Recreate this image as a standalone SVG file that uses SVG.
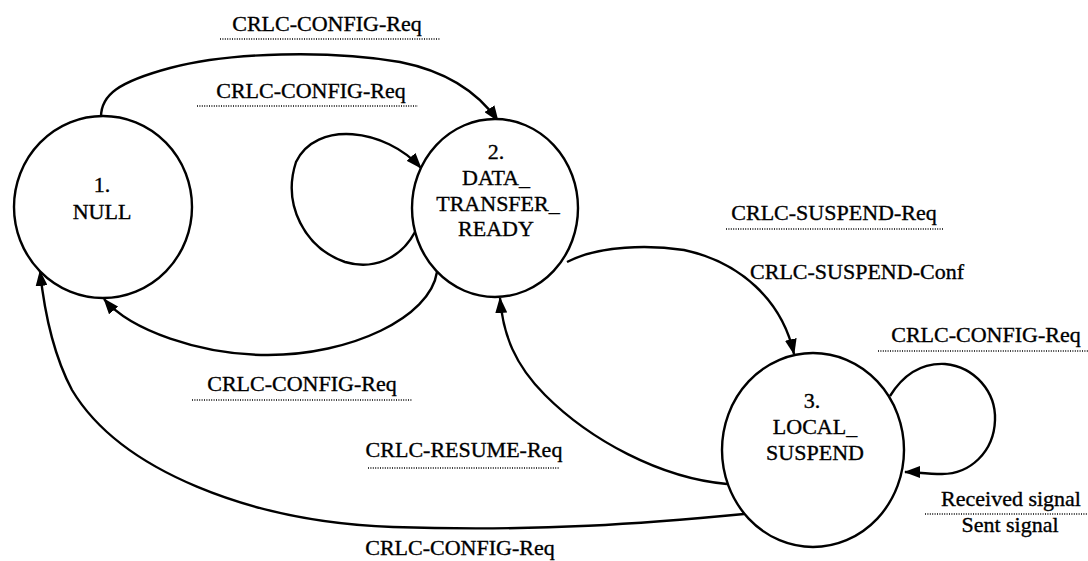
<svg xmlns="http://www.w3.org/2000/svg" width="1088" height="561" viewBox="0 0 1088 561">
<defs>
<style>
.st{fill:#fff;stroke:#000;stroke-width:2.4}
.c{fill:none;stroke:#000;stroke-width:2.4}
.t{font-family:"Liberation Serif","Times New Roman",serif;font-size:22px;fill:#000;stroke:#000;stroke-width:0.35;text-anchor:middle}
.u{stroke:#000;stroke-width:1.6;stroke-dasharray:1 1.4}
</style>
<marker id="ah" viewBox="0 0 16 12" refX="15" refY="6" markerWidth="16" markerHeight="12" markerUnits="userSpaceOnUse" orient="auto">
<path d="M0,0 L16,6 L0,12 Z" fill="#000"/>
</marker>
</defs>
<rect width="1088" height="561" fill="#fff"/>
<g id="connectors">
<path class="c" d="M101,117 C101,95 118,82 170,68 C230,52 330,50 400,62 C450,72 480,95 498,121" marker-end="url(#ah)"/>
<path class="c" d="M415,232 C400,260 372,270 345,262 C305,248 282,205 296,162 C316,120 385,128 421,168" marker-end="url(#ah)"/>
<path class="c" d="M437,272 C430,318 350,355 268,355 C200,355 130,330 104,299" marker-end="url(#ah)"/>
<path class="c" d="M744,514 C650,523 540,532 393,527 C250,522 120,470 72,390 C55,358 45,318 40,271" marker-end="url(#ah)"/>
<path class="c" d="M567,262 C600,245 650,245 684,250 C740,262 782,300 794,354" marker-end="url(#ah)"/>
<path class="c" d="M727,484 C660,478 590,440 545,395 C515,365 503,335 500,298" marker-end="url(#ah)"/>
<path class="c" d="M890,396 C905,372 925,363 945,364 C975,367 996,392 995,420 C994,452 970,474 942,474 C926,474 914,472 905,472" marker-end="url(#ah)"/>
</g>
<g id="node1">
<ellipse class="st" cx="103" cy="207" rx="89" ry="91"/>
<text class="t" x="102" y="192">1.</text>
<text class="t" x="102" y="219">NULL</text>
</g>
<g id="node2">
<ellipse class="st" cx="495" cy="208" rx="83" ry="89"/>
<text class="t" x="496" y="159">2.</text>
<text class="t" x="496" y="185">DATA_</text>
<text class="t" x="498" y="211">TRANSFER_</text>
<text class="t" x="496" y="236">READY</text>
</g>
<g id="node3">
<ellipse class="st" cx="813" cy="450" rx="91" ry="97"/>
<text class="t" x="812" y="408">3.</text>
<text class="t" x="815" y="434">LOCAL_</text>
<text class="t" x="815" y="460">SUSPEND</text>
</g>
<g id="labels">
<text class="t" x="327" y="31">CRLC-CONFIG-Req</text>
<line class="u" x1="220" y1="39" x2="440" y2="39"/>
<text class="t" x="311" y="98">CRLC-CONFIG-Req</text>
<line class="u" x1="197" y1="106" x2="418" y2="106"/>
<text class="t" x="302" y="391">CRLC-CONFIG-Req</text>
<line class="u" x1="192" y1="400" x2="412" y2="400"/>
<text class="t" x="464" y="457">CRLC-RESUME-Req</text>
<line class="u" x1="368" y1="468" x2="560" y2="468"/>
<text class="t" x="460" y="555">CRLC-CONFIG-Req</text>
<text class="t" x="834" y="220">CRLC-SUSPEND-Req</text>
<line class="u" x1="726" y1="229" x2="944" y2="229"/>
<text class="t" x="857" y="279">CRLC-SUSPEND-Conf</text>
<text class="t" x="986" y="342">CRLC-CONFIG-Req</text>
<line class="u" x1="878" y1="351" x2="1088" y2="351"/>
<text class="t" x="1011" y="506">Received signal</text>
<line class="u" x1="925" y1="514" x2="1088" y2="514"/>
<text class="t" x="1010" y="532">Sent signal</text>
</g>
</svg>
